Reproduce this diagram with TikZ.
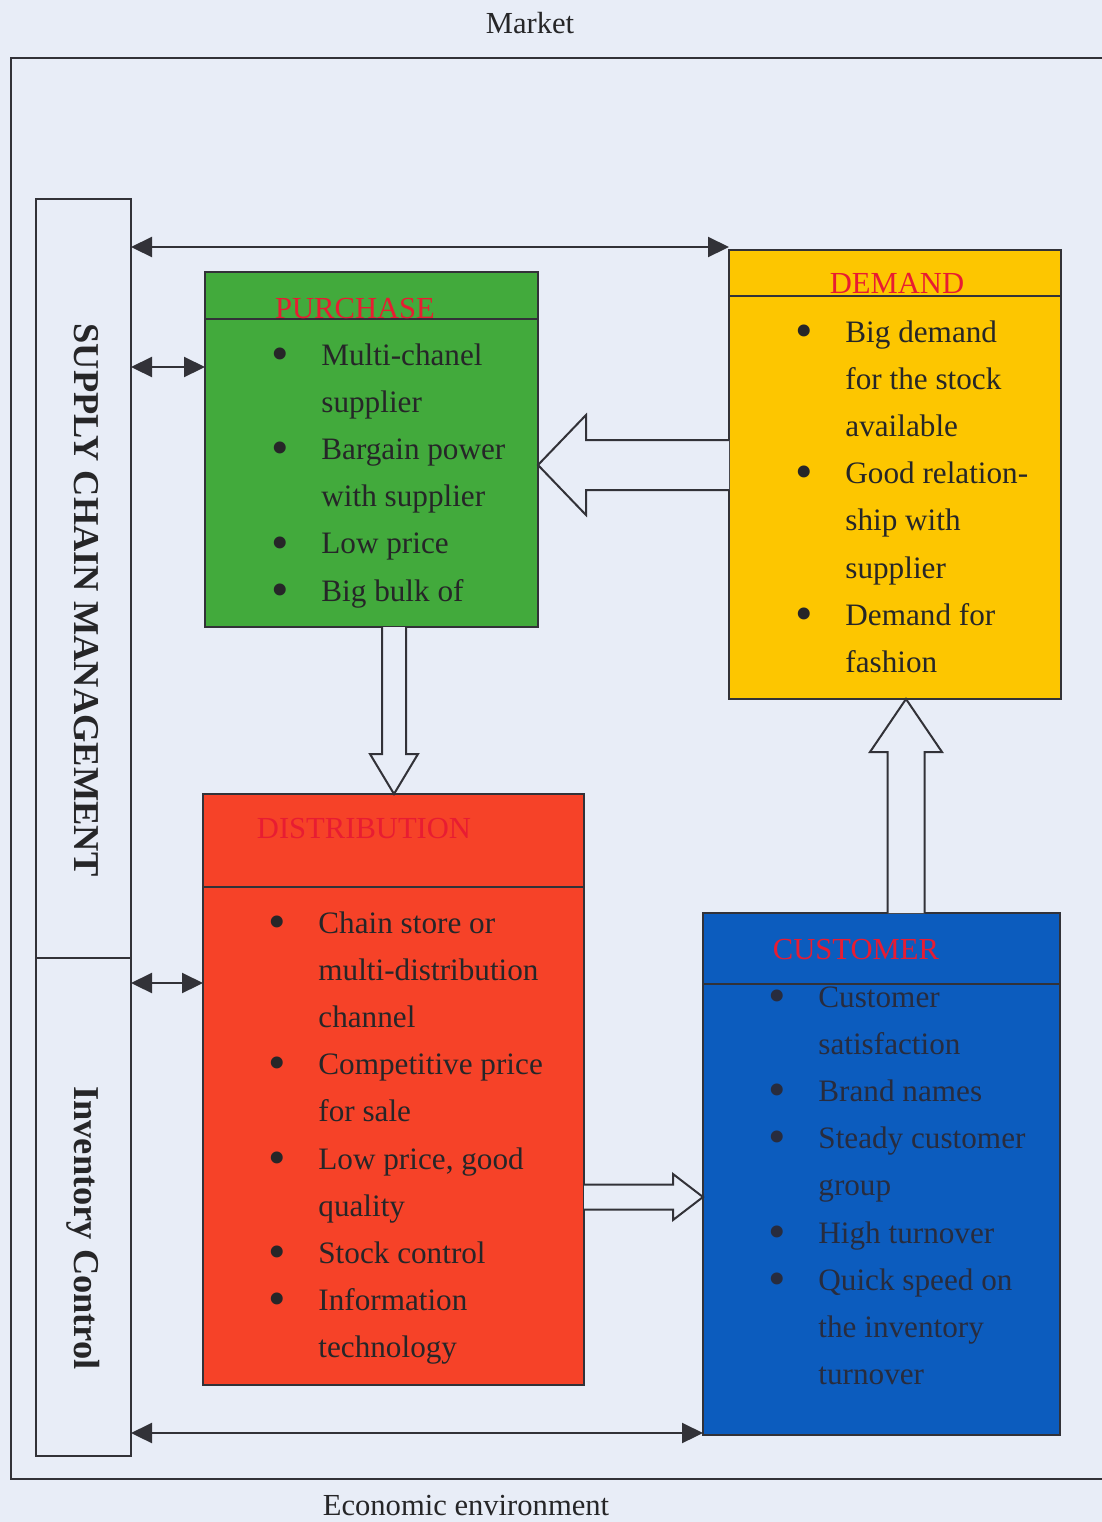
\documentclass[tikz,border=0pt]{standalone}
\usepackage{fontspec}
\setmainfont{Liberation Serif}
\usetikzlibrary{arrows.meta,calc}

\definecolor{bg}{RGB}{232,237,247}
\definecolor{ink}{RGB}{50,50,56}
\definecolor{bodytext}{RGB}{38,38,40}
\definecolor{bluetext}{RGB}{40,44,62}
\definecolor{titlered}{RGB}{232,28,50}
\definecolor{purchasegreen}{RGB}{66,170,60}
\definecolor{demandyellow}{RGB}{253,198,0}
\definecolor{distred}{RGB}{246,66,40}
\definecolor{custblue}{RGB}{12,92,190}

% hanging bullet placed 20.5pt left of the item text
\newcommand\dotmark{\llap{\makebox[41pt][c]{\raisebox{-2.6pt}{\fontsize{25}{25}\selectfont\textbullet}}}}

\begin{document}
\begin{tikzpicture}[x=0.5pt,y=-0.5pt,
  frameline/.style={draw=ink,line width=1.1pt},
  box/.style={draw=ink,line width=1.1pt,rectangle,inner sep=0pt,outer sep=0pt},
  boxtitle/.style={anchor=base,inner sep=0pt,text=titlered,font=\fontsize{15.3}{18}\selectfont},
  boxlist/.style={anchor=base west,inner sep=0pt,text=bodytext,font=\fontsize{15.6}{23.6}\selectfont},
  sidetext/.style={anchor=base,inner sep=0pt,rotate=-90,text=bodytext,font=\fontsize{18.2}{22}\selectfont\bfseries},
  caption/.style={anchor=base,inner sep=0pt,text=bodytext,font=\fontsize{15.3}{18}\selectfont},
  link/.style={draw=ink,line width=1.1pt,{Triangle[length=10.5pt,width=10pt]}-{Triangle[length=10.5pt,width=10pt]}},
  blockarrow/.style={draw=ink,line width=1pt,fill=bg,line join=miter},
]
% page background
\useasboundingbox[fill=bg] (0,0) rectangle (1102,1522);

% environment labels and frame
\node[caption] (market) at (530,33) {Market};
\node[caption] (economy) at (466,1515) {Economic environment};
\draw[frameline] (1102,58) -- (11,58) -- (11,1479) -- (1102,1479);

% management column
\node[box,minimum width=47.5pt,minimum height=379.5pt] (scm) at (83.5,578.5) {};
\node[box,minimum width=47.5pt,minimum height=249pt] (inv) at (83.5,1207) {};
\node[sidetext] (scm-label) at (75,600) {SUPPLY CHAIN MANAGEMENT};
\node[sidetext] (inv-label) at (74,1228) {Inventory Control};

% the four blocks
\node[box,fill=purchasegreen,minimum width=166.5pt,minimum height=177.5pt] (purchase) at (371.5,449.5) {};
\node[box,fill=demandyellow,minimum width=166pt,minimum height=224.5pt] (demand) at (895,474.5) {};
\node[box,fill=distred,minimum width=190.5pt,minimum height=295.5pt] (distribution) at (393.5,1089.5) {};
\node[box,fill=custblue,minimum width=178.5pt,minimum height=261pt] (customer) at (881.5,1174) {};

% header rules
\draw[frameline] ($(purchase.north west)+(0,47)$) -- ($(purchase.north east)+(0,47)$);
\draw[frameline] ($(demand.north west)+(0,46)$) -- ($(demand.north east)+(0,46)$);
\draw[frameline] ($(distribution.north west)+(0,93)$) -- ($(distribution.north east)+(0,93)$);
\draw[frameline] ($(customer.north west)+(0,71)$) -- ($(customer.north east)+(0,71)$);

% titles
\node[boxtitle] (purchase-title) at (355,318) {PURCHASE};
\node[boxtitle] (demand-title) at (897,293) {DEMAND};
\node[boxtitle] (distribution-title) at (364,838) {DISTRIBUTION};
\node[boxtitle] (customer-title) at (856,959) {CUSTOMER};

% item lists
\node[boxlist] (purchase-list) at (321,365) {\begin{tabular}[t]{@{}l@{}}
\dotmark Multi-chanel\\ supplier\\ \dotmark Bargain power\\ with supplier\\
\dotmark Low price\\ \dotmark Big bulk of\end{tabular}};
\node[boxlist] (demand-list) at (845,342) {\begin{tabular}[t]{@{}l@{}}
\dotmark Big demand\\ for the stock\\ available\\ \dotmark Good relation-\\
ship with\\ supplier\\ \dotmark Demand for\\ fashion\end{tabular}};
\node[boxlist] (distribution-list) at (318,933) {\begin{tabular}[t]{@{}l@{}}
\dotmark Chain store or\\ multi-distribution\\ channel\\ \dotmark Competitive price\\
for sale\\ \dotmark Low price, good\\ quality\\ \dotmark Stock control\\
\dotmark Information\\ technology\end{tabular}};
\node[boxlist,text=bluetext] (customer-list) at (818,1007) {\begin{tabular}[t]{@{}l@{}}
\dotmark Customer\\ satisfaction\\ \dotmark Brand names\\ \dotmark Steady customer\\
group\\ \dotmark High turnover\\ \dotmark Quick speed on\\ the inventory\\ turnover\end{tabular}};

% links between the management column and the blocks
\coordinate (pin) at ($(purchase.north west)+(0,95)$);
\coordinate (din) at ($(distribution.north west)+(0,189)$);
\draw[link] ($(scm.north east)+(0,48)$) -- ($(demand.north west)+(0,-3)$);
\draw[link] (scm.east |- pin) -- (pin);
\draw[link] (inv.east |- din) -- (din);
\draw[link] ($(inv.south east)+(0,-23)$) -- ($(customer.south west)+(0,-2)$);

% block arrows: demand -> purchase
\coordinate (dpy) at (0,465);
\coordinate (dptail) at (demand.west |- dpy);
\coordinate (dptip) at (purchase.east |- dpy);
\draw[blockarrow] ($(dptail)+(0,-25)$) -- ($(dptip)+(48,-25)$) -- ($(dptip)+(48,-50)$) -- (dptip)
  -- ($(dptip)+(48,50)$) -- ($(dptip)+(48,25)$) -- ($(dptail)+(0,25)$);

% purchase -> distribution
\coordinate (pdx) at (394,0);
\coordinate (pdtail) at (pdx |- purchase.south);
\coordinate (pdtip) at (pdx |- distribution.north);
\draw[blockarrow] ($(pdtail)+(-12,0)$) -- ($(pdtip)+(-12,-40)$) -- ($(pdtip)+(-24,-40)$) -- (pdtip)
  -- ($(pdtip)+(24,-40)$) -- ($(pdtip)+(12,-40)$) -- ($(pdtail)+(12,0)$);

% customer -> demand
\coordinate (cdx) at (906,0);
\coordinate (cdtail) at (cdx |- customer.north);
\coordinate (cdtip) at (cdx |- demand.south);
\draw[blockarrow] ($(cdtail)+(-18.5,0)$) -- ($(cdtip)+(-18.5,53)$) -- ($(cdtip)+(-36,53)$) -- (cdtip)
  -- ($(cdtip)+(36,53)$) -- ($(cdtip)+(18.5,53)$) -- ($(cdtail)+(18.5,0)$);

% distribution -> customer
\coordinate (dcy) at (0,1197);
\coordinate (dctail) at (distribution.east |- dcy);
\coordinate (dctip) at (customer.west |- dcy);
\draw[blockarrow] ($(dctail)+(0,-12.5)$) -- ($(dctip)+(-30,-12.5)$) -- ($(dctip)+(-30,-23)$) -- (dctip)
  -- ($(dctip)+(-30,23)$) -- ($(dctip)+(-30,12.5)$) -- ($(dctail)+(0,12.5)$);
\end{tikzpicture}
\end{document}
